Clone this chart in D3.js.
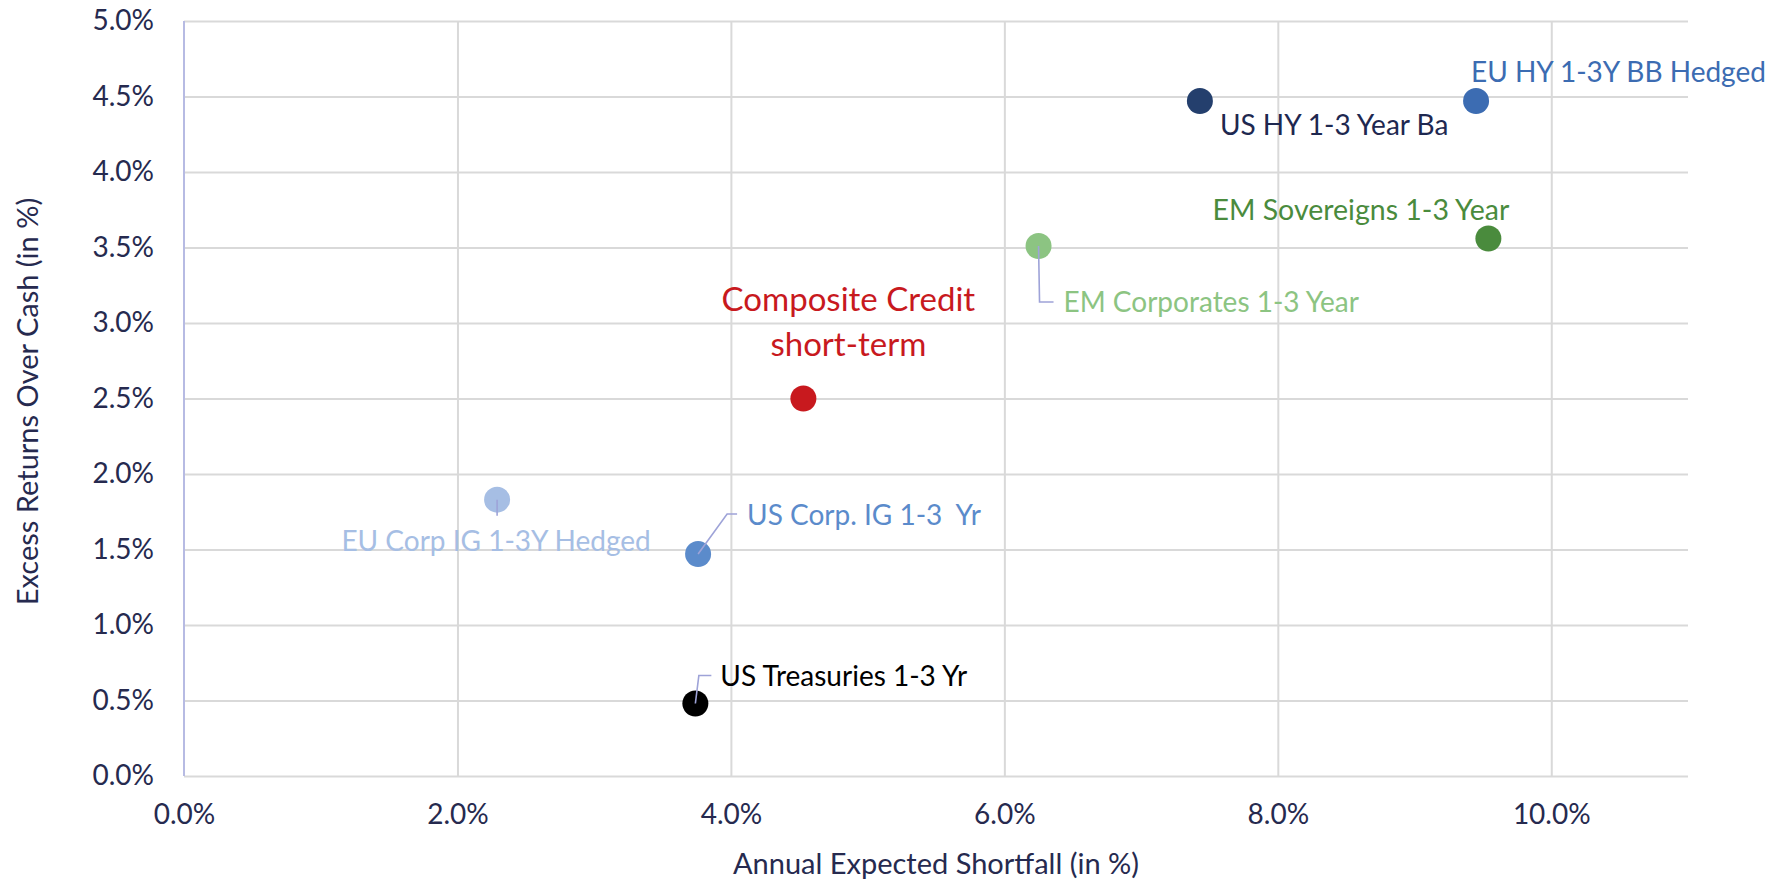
<!DOCTYPE html>
<html>
<head>
<meta charset="utf-8">
<script src="https://cdn.jsdelivr.net/npm/d3@7"></script>
<style>
  html, body { margin: 0; padding: 0; background: #ffffff; }
  svg { display: block; }
  text { font-family: Lato, "Open Sans", sans-serif; }
</style>
</head>
<body>
<svg id="chart" width="1781" height="879"></svg>
<script>
// ---- data ----
const names = [
  "US Treasuries 1-3 Yr",
  "US Corp. IG 1-3  Yr",
  "EU Corp IG 1-3Y Hedged",
  "Composite Credit short-term",
  "EM Corporates 1-3 Year",
  "EM Sovereigns 1-3 Year",
  "US HY 1-3 Year Ba",
  "EU HY 1-3Y BB Hedged"
];
const shortfall = [3.74, 3.76, 2.29, 4.53, 6.25, 9.54, 7.43, 9.45];   // x, %
const excessReturn = [0.48, 1.47, 1.83, 2.50, 3.51, 3.56, 4.47, 4.47]; // y, %
const xTicks = [0, 2, 4, 6, 8, 10];
const yTicks = [0, 0.5, 1, 1.5, 2, 2.5, 3, 3.5, 4, 4.5, 5];
const xTitle = "Annual Expected Shortfall (in %)";
const yTitle = "Excess Returns Over Cash (in %)";

// ---- styles / layout (kept apart from data) ----
const pointColor = {
  "US Treasuries 1-3 Yr": "#000000",
  "US Corp. IG 1-3  Yr": "#5B8BCB",
  "EU Corp IG 1-3Y Hedged": "#A6BEE4",
  "Composite Credit short-term": "#C8191E",
  "EM Corporates 1-3 Year": "#8CC482",
  "EM Sovereigns 1-3 Year": "#4A8B3D",
  "US HY 1-3 Year Ba": "#243F6D",
  "EU HY 1-3Y BB Hedged": "#3C6CB2"
};
const labelColor = {
  "US Treasuries 1-3 Yr": "#000000",
  "US Corp. IG 1-3  Yr": "#5B8BCB",
  "EU Corp IG 1-3Y Hedged": "#A6BEE4",
  "Composite Credit short-term": "#C8191E",
  "EM Corporates 1-3 Year": "#8CC482",
  "EM Sovereigns 1-3 Year": "#4A8B3D",
  "US HY 1-3 Year Ba": "#1E2850",
  "EU HY 1-3Y BB Hedged": "#3C6CB2"
};
// label offsets relative to the point (pixels), optional leader polyline
const labelLayout = {
  "US Treasuries 1-3 Yr":       {dx: 25, dy: -18, anchor: "start", leader: [[0,0],[3.5,-28],[16,-28]]},
  "US Corp. IG 1-3  Yr":        {dx: 49, dy: -29, anchor: "start", leader: [[0,0],[29,-40],[39,-40]]},
  "EU Corp IG 1-3Y Hedged":     {dx: -1, dy: 51, anchor: "middle", leader: [[0,0],[0,16]]},
  "Composite Credit short-term":{dx: 45, dy: -88, anchor: "middle", lines: ["Composite Credit", "short-term"], lineGap: 45, size: 33},
  "EM Corporates 1-3 Year":     {dx: 25, dy: 66, anchor: "start", leader: [[0,0],[1,56],[15,56]]},
  "EM Sovereigns 1-3 Year":     {dx: 21, dy: -18, anchor: "end", size: 28.5},
  "US HY 1-3 Year Ba":          {dx: 20, dy: 34, anchor: "start"},
  "EU HY 1-3Y BB Hedged":       {dx: -5, dy: -19, anchor: "start"}
};

const W = 1781, H = 879;
const plot = {left: 184, right: 1688, top: 21, bottom: 776};
const tickColor = "#262A4F";
const gridColor = "#D9D9D9";

const svg = d3.select("#chart");

const x = d3.scaleLinear().domain([0, 11]).range([plot.left, plot.right]);
const y = d3.scaleLinear().domain([0, 5]).range([plot.bottom, plot.top]);
const pct = v => d3.format(".1f")(v) + "%";

// horizontal gridlines
const yGrid = svg.append("g")
  .attr("transform", `translate(${plot.left},0)`)
  .call(d3.axisLeft(y).tickValues(yTicks).tickSize(-(plot.right - plot.left)).tickFormat(""));
yGrid.select(".domain").remove();
yGrid.selectAll(".tick line").attr("stroke", gridColor).attr("stroke-width", 2);

// vertical gridlines
const xGrid = svg.append("g")
  .attr("transform", `translate(0,${plot.bottom})`)
  .call(d3.axisBottom(x).tickValues(xTicks.filter(v => v > 0)).tickSize(-(plot.bottom - plot.top)).tickFormat(""));
xGrid.select(".domain").remove();
xGrid.selectAll(".tick line").attr("stroke", gridColor).attr("stroke-width", 2);

// left axis line
svg.append("line")
  .attr("x1", x(0)).attr("x2", x(0))
  .attr("y1", y(5)).attr("y2", y(0))
  .attr("stroke", "#B7BBE3").attr("stroke-width", 2);

// y tick labels
const yAxis = svg.append("g")
  .attr("transform", `translate(${plot.left - 30},0)`)
  .call(d3.axisLeft(y).tickValues(yTicks).tickSize(0).tickPadding(0).tickFormat(pct));
yAxis.select(".domain").remove();
yAxis.selectAll("text")
  .attr("fill", tickColor).style("font-size", "28px")
  .style("font-family", "Lato, sans-serif");

// x tick labels
const xAxis = svg.append("g")
  .attr("transform", `translate(0,${plot.bottom + 28})`)
  .call(d3.axisBottom(x).tickValues(xTicks).tickSize(0).tickPadding(0).tickFormat(pct));
xAxis.select(".domain").remove();
xAxis.selectAll("text")
  .attr("fill", tickColor).style("font-size", "28px")
  .style("font-family", "Lato, sans-serif");

// axis titles
svg.append("text")
  .attr("x", (plot.left + plot.right) / 2).attr("y", 874)
  .attr("text-anchor", "middle").attr("fill", tickColor)
  .style("font-size", "29px").text(xTitle);

svg.append("text")
  .attr("transform", `translate(38,${(plot.top + plot.bottom) / 2 + 3}) rotate(-90)`)
  .attr("text-anchor", "middle").attr("fill", tickColor)
  .style("font-size", "29px").text(yTitle);

const data = names.map((n, i) => ({name: n, xv: shortfall[i], yv: excessReturn[i]}));

// points
svg.append("g").selectAll("circle")
  .data(data).join("circle")
  .attr("cx", d => x(d.xv)).attr("cy", d => y(d.yv))
  .attr("r", 13)
  .attr("fill", d => pointColor[d.name]);

// leader lines
svg.append("g").selectAll("path")
  .data(data.filter(d => labelLayout[d.name].leader)).join("path")
  .attr("d", d => {
    const px = x(d.xv), py = y(d.yv);
    return d3.line()(labelLayout[d.name].leader.map(p => [px + p[0], py + p[1]]));
  })
  .attr("fill", "none").attr("stroke", "#9EA3D8").attr("stroke-width", 1.6);

// labels
const lbl = svg.append("g").selectAll("text")
  .data(data).join("text")
  .attr("x", d => x(d.xv) + labelLayout[d.name].dx)
  .attr("y", d => y(d.yv) + labelLayout[d.name].dy)
  .attr("text-anchor", d => labelLayout[d.name].anchor)
  .attr("fill", d => labelColor[d.name])
  .style("font-size", d => (labelLayout[d.name].size || 28) + "px")
  .style("white-space", "pre")
  .attr("xml:space", "preserve");

lbl.each(function(d) {
  const L = labelLayout[d.name];
  const t = d3.select(this);
  if (L.lines) {
    L.lines.forEach((s, i) => {
      t.append("tspan")
        .attr("x", x(d.xv) + L.dx)
        .attr("dy", i === 0 ? 0 : L.lineGap)
        .text(s);
    });
  } else {
    t.text(d.name);
  }
});
</script>
</body>
</html>
